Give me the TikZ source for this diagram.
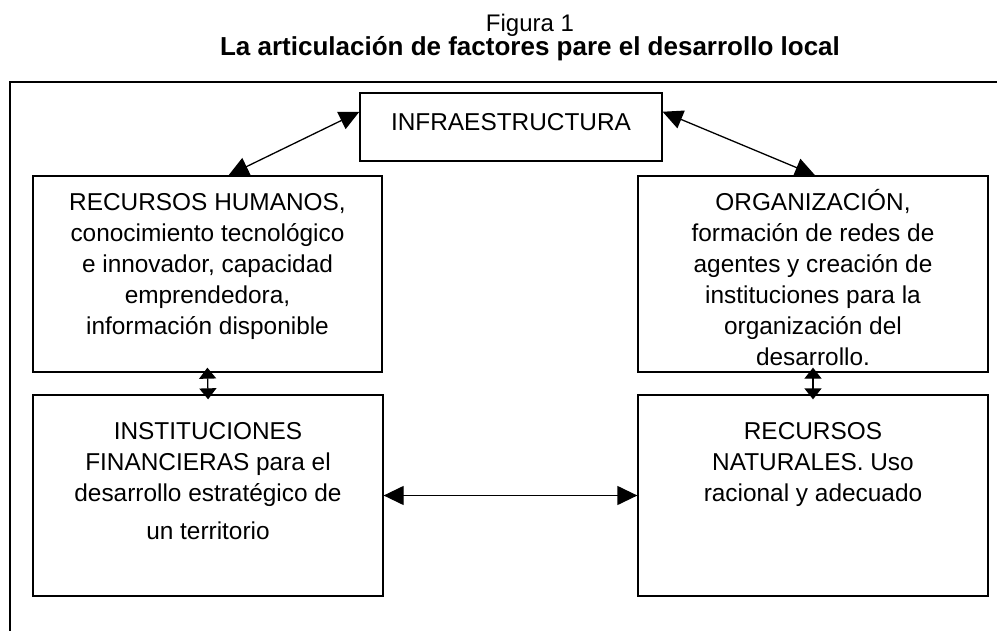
\documentclass[tikz,border=0pt]{standalone}
\usepackage{fontspec}
\setmainfont{Liberation Sans}
\usetikzlibrary{arrows.meta,calc}
\begin{document}
\begin{tikzpicture}[x=1pt,y=-1pt,
  box/.style={draw, line width=1.3pt, inner sep=0pt},
  txt/.style={align=center, inner sep=0pt, font=\fontsize{24.4}{31}\selectfont},
  dbl/.style={line width=1.3pt, {Triangle[length=20pt,width=19pt]}-{Triangle[length=20pt,width=19pt]}},
  dblsmall/.style={line width=1.3pt, shorten <=-5pt, shorten >=-5pt, {Triangle[length=11pt,width=17pt]}-{Triangle[length=11pt,width=17pt]}}]
\useasboundingbox (0,0) rectangle (997,631);
% outer frame (cut off at right and bottom)
\draw[line width=1.4pt] (10,631) -- (10,82) -- (997,82);
% titles
\node[anchor=base, inner sep=0pt, font=\fontsize{24}{28}\selectfont] (fig) at (530,32) {Figura 1};
\node[anchor=base, inner sep=0pt, font=\fontsize{26}{30}\selectfont\bfseries] (title) at (530,56) {La articulación de factores pare el desarrollo local};
% boxes
\node[box, minimum width=302pt, minimum height=68pt] (infra) at (511,127) {};
\node[box, minimum width=349pt, minimum height=196pt] (rh) at (207.5,274) {};
\node[box, minimum width=350pt, minimum height=196pt] (org) at (813,274) {};
\node[box, minimum width=350pt, minimum height=201pt] (inst) at (208,495.5) {};
\node[box, minimum width=350pt, minimum height=201pt] (nat) at (813,495.5) {};
% texts
\node[txt, anchor=base] (tinfra) at (511,131) {INFRAESTRUCTURA};
\node[txt, anchor=north] (trh) at (207.5,188.5) {\rule{0pt}{22pt}RECURSOS HUMANOS,\\conocimiento tecnológico\\e innovador, capacidad\\emprendedora,\\información disponible};
\node[txt, anchor=north] (torg) at (813,188.5) {\rule{0pt}{22pt}ORGANIZACIÓN,\\formación de redes de\\agentes y creación de\\instituciones para la\\organización del\\desarrollo.};
\node[txt, anchor=north] (tinst) at (208,417) {\rule{0pt}{22pt}INSTITUCIONES\\FINANCIERAS para el\\desarrollo estratégico de\\[7pt]un territorio};
\node[txt, anchor=north] (tnat) at (813,417) {\rule{0pt}{22pt}RECURSOS\\NATURALES. Uso\\racional y adecuado};
% connectors
\draw[dbl] ($(infra.north west)!0.28!(infra.south west)$) -- ($(rh.north west)!0.56!(rh.north east)$);
\draw[dbl] ($(infra.north east)!0.28!(infra.south east)$) -- ($(org.north west)!0.506!(org.north east)$);
\draw[dblsmall] (rh.south) -- (inst.north);
\draw[dblsmall] (org.south) -- (nat.north);
\draw[dbl] (inst.east) -- (nat.west);
\end{tikzpicture}
\end{document}
